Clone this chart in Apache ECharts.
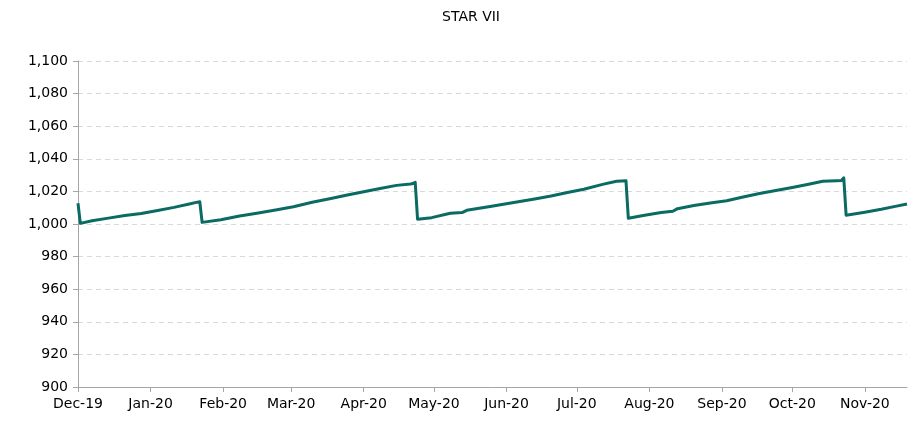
<!DOCTYPE html>
<html>
<head>
<meta charset="utf-8">
<script src="https://cdn.jsdelivr.net/npm/echarts@6/dist/echarts.min.js"></script>
<style>
html,body{margin:0;padding:0;background:#fff;}
#chart{width:915px;height:423px;}
</style>
</head>
<body>
<div id="chart"></div>
<script>
var title = 'STAR VII';
var monthTicks = [
'2019-12-01','2020-01-01','2020-02-01','2020-03-01','2020-04-01','2020-05-01',
'2020-06-01','2020-07-01','2020-08-01','2020-09-01','2020-10-01','2020-11-01'
];
var dates = [
'2019-12-01','2019-12-02','2019-12-07','2019-12-14','2019-12-21','2019-12-28',
'2020-01-04','2020-01-11','2020-01-18','2020-01-21','2020-01-22','2020-01-23',
'2020-01-31','2020-02-08','2020-02-16','2020-02-24','2020-03-02','2020-03-10',
'2020-03-18','2020-03-25','2020-04-01','2020-04-08','2020-04-15','2020-04-21',
'2020-04-22','2020-04-23','2020-04-24','2020-04-30','2020-05-08','2020-05-13',
'2020-05-15','2020-05-25','2020-06-06','2020-06-13','2020-06-20','2020-06-27',
'2020-07-04','2020-07-12','2020-07-18','2020-07-22','2020-07-23','2020-07-30',
'2020-08-06','2020-08-11','2020-08-13','2020-08-20','2020-08-27','2020-09-03',
'2020-09-10','2020-09-17','2020-09-24','2020-10-01','2020-10-08','2020-10-14',
'2020-10-20','2020-10-22','2020-10-23','2020-10-24','2020-11-01','2020-11-08',
'2020-11-14','2020-11-19'
];
var values = [
1012.7,1000.4,1002.0,1003.6,1005.2,1006.5,
1008.3,1010.2,1012.4,1013.4,1013.7,1001.0,
1002.6,1004.9,1006.8,1008.8,1010.6,1013.3,
1015.6,1017.8,1019.8,1021.8,1023.7,1024.5,
1024.8,1025.6,1002.9,1003.9,1006.6,1007.0,
1008.4,1010.8,1013.7,1015.4,1017.2,1019.3,
1021.3,1024.3,1026.2,1026.6,1003.5,1005.4,
1007.0,1007.8,1009.4,1011.3,1012.9,1014.3,
1016.6,1018.7,1020.6,1022.4,1024.4,1026.2,
1026.6,1026.7,1028.3,1005.4,1007.2,1009.0,
1010.8,1012.3
];
var yMin = 900, yMax = 1100, yStep = 20;
var months = ['Jan','Feb','Mar','Apr','May','Jun','Jul','Aug','Sep','Oct','Nov','Dec'];

function ts(s){ var p = s.split('-'); return Date.UTC(+p[0], +p[1]-1, +p[2]); }
var seriesData = dates.map(function(d,i){ return [ts(d), values[i]]; });
var tickTs = monthTicks.map(ts);
var font = 'DejaVu Sans';
var chart = echarts.init(document.getElementById('chart'), null, {renderer:'canvas'});
chart.setOption({
  animation:false,
  backgroundColor:'#ffffff',
  title:{
    text:title, left:466, top:5, textAlign:'center',
    textStyle:{fontFamily:font, fontSize:14, fontWeight:'normal', color:'#000'}
  },
  grid:{left:78, right:8, top:61, bottom:36, containLabel:false, outerBoundsMode:'none'},
  xAxis:{
    type:'value',
    min:ts(dates[0]), max:ts(dates[dates.length-1]),
    axisLine:{lineStyle:{color:'#a6a6a6', width:1}},
    axisTick:{show:true, length:5, lineStyle:{color:'#a6a6a6'}, customValues:tickTs},
    splitLine:{show:false},
    axisLabel:{
      fontFamily:font, fontSize:14, color:'#000', margin:10,
      customValues:tickTs, hideOverlap:false,
      formatter:function(v){
        var d = new Date(v);
        return months[d.getUTCMonth()] + '-' + String(d.getUTCFullYear()).slice(2);
      }
    }
  },
  yAxis:{
    type:'value', min:yMin, max:yMax, interval:yStep,
    axisLine:{show:true, lineStyle:{color:'#a6a6a6', width:1}},
    axisTick:{show:true, length:5, lineStyle:{color:'#a6a6a6'}},
    splitLine:{show:true, lineStyle:{color:'#d9d9d9', type:[5,4], width:1}},
    axisLabel:{
      fontFamily:font, fontSize:14, color:'#000', margin:10,
      formatter:function(v){ return v.toLocaleString('en-US'); }
    }
  },
  series:[{
    type:'line', data:seriesData, showSymbol:false, symbol:'none',
    lineStyle:{color:'#0a6b63', width:3, join:'round'},
    itemStyle:{color:'#0a6b63'}
  }]
});
</script>
</body>
</html>
